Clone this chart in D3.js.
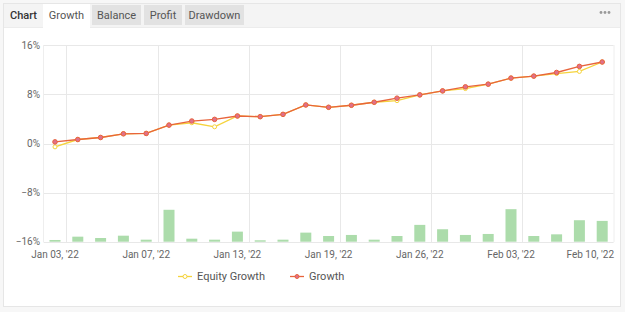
<!DOCTYPE html>
<html><head><meta charset="utf-8">
<script src="https://cdn.jsdelivr.net/npm/d3@7"></script>
<style>
html,body{margin:0;padding:0;background:#fff;}
svg{display:block;font-family:Roboto,"Noto Sans",sans-serif;}
</style></head>
<body><svg id="c" width="625" height="312"></svg>
<script>
const categories = ["Jan 03, '22","Jan 04, '22","Jan 05, '22","Jan 06, '22","Jan 07, '22","Jan 10, '22","Jan 11, '22","Jan 12, '22","Jan 13, '22","Jan 14, '22","Jan 17, '22","Jan 18, '22","Jan 19, '22","Jan 20, '22","Jan 21, '22","Jan 25, '22","Jan 26, '22","Jan 27, '22","Jan 28, '22","Feb 02, '22","Feb 03, '22","Feb 04, '22","Feb 07, '22","Feb 09, '22","Feb 10, '22"];
const growth = [0.26,0.65,0.98,1.58,1.64,3.0,3.66,3.93,4.48,4.37,4.75,6.28,5.9,6.23,6.72,7.38,7.92,8.57,9.23,9.67,10.66,10.98,11.57,12.56,13.28];
const equityGrowth = [-0.55,0.65,0.98,1.58,1.64,3.0,3.38,2.72,4.48,4.37,4.75,6.28,5.9,6.23,6.72,6.98,7.92,8.57,8.95,9.67,10.66,10.98,11.4,11.74,13.28];
const bars = [0.28,0.82,0.6,0.98,0.33,5.2,0.49,0.33,1.64,0.23,0.33,1.48,0.93,1.1,0.33,0.93,2.74,2.03,1.1,1.26,5.3,0.93,1.2,3.5,3.39];
const yTicks = [16,8,0,-8,-16];
const labelIdx = [0,4,8,12,16,20,24];
const gridIdx = [0,4,8,12,16,20];
const tabs = ["Chart","Growth","Balance","Profit","Drawdown"];

const svg = d3.select("#c");
svg.append("rect").attr("x",0).attr("y",0).attr("width",625).attr("height",312).attr("fill","#f7f7f7");
svg.append("rect").attr("x",3.5).attr("y",3.5).attr("width",617).attr("height",303).attr("fill","#fff").attr("stroke","#e6e6e6");
svg.append("rect").attr("x",4).attr("y",4).attr("width",616).attr("height",23).attr("fill","#f4f4f4");
svg.append("line").attr("x1",4).attr("x2",620).attr("y1",27.5).attr("y2",27.5).attr("stroke","#ececec");

const tabX = [[5,42],[43,90],[92,141],[144,182],[185,244]];
tabs.forEach((t,i)=>{
  const [a,b] = tabX[i];
  let fill = i===0 ? "#f4f4f4" : (i===1 ? "#fff" : "#e2e2e2");
  svg.append("rect").attr("x",a).attr("y",i===1?4:5).attr("width",b-a).attr("height",i===1?24:20).attr("fill",fill);
  svg.append("text").attr("x",(a+b)/2).attr("y",18.5).attr("text-anchor","middle")
    .attr("font-size",11).attr("fill", i===0?"#333":"#555").attr("font-weight", i===0?500:400).text(t);
});
[0,1,2].forEach(k=>svg.append("circle").attr("cx",601+k*4).attr("cy",12.5).attr("r",1.4).attr("fill","#999"));

const x = d3.scaleBand().domain(d3.range(categories.length)).range([43.6,613.6]);
const y = d3.scaleLinear().domain([-16,16]).range([241.7,45.3]);
const g = svg.append("g");

yTicks.forEach(v=>{
  g.append("line").attr("x1",43.6).attr("x2",613.6).attr("y1",Math.round(y(v))+0.5).attr("y2",Math.round(y(v))+0.5).attr("stroke","#e8e8e8");
});
gridIdx.forEach(i=>{
  const xx = Math.round(x(i)+x.bandwidth())+0.5;
  g.append("line").attr("x1",xx).attr("x2",xx).attr("y1",45).attr("y2",242).attr("stroke","#e8e8e8");
});
g.append("line").attr("x1",43.5).attr("x2",43.5).attr("y1",45).attr("y2",242).attr("stroke","#eeeeee");
g.append("line").attr("x1",614).attr("x2",614).attr("y1",45).attr("y2",242).attr("stroke","#eeeeee");

yTicks.forEach(v=>{
  g.append("text").attr("x",40).attr("y",y(v)+3.5).attr("text-anchor","end").attr("font-size",10).attr("fill","#666")
   .text((v<0?"\u2212":"")+Math.abs(v)+"%");
});
labelIdx.forEach(i=>{
  let cx = x(i)+x.bandwidth()/2;
  const t = g.append("text").attr("y",258).attr("font-size",10).attr("fill","#666").attr("text-anchor","middle").text(categories[i]);
  if(i===categories.length-1){ t.attr("text-anchor","end").attr("x",614); } else t.attr("x",cx);
});

g.selectAll(".bar").data(bars).join("rect")
  .attr("x",(d,i)=>x(i)+x.bandwidth()/2-5.5).attr("width",11)
  .attr("y",d=>y(-16+d)).attr("height",d=>y(-16)-y(-16+d))
  .attr("fill","#acdcab");

const line = d3.line().x((d,i)=>x(i)+x.bandwidth()/2).y(d=>y(d));
g.append("path").datum(equityGrowth).attr("d",line).attr("fill","none").attr("stroke","#f5d33c").attr("stroke-width",1.3);
g.selectAll(".ep").data(equityGrowth).join("circle").attr("cx",(d,i)=>x(i)+x.bandwidth()/2).attr("cy",d=>y(d)).attr("r",2)
  .attr("fill","#fff").attr("stroke","#f5d33c").attr("stroke-width",1);
g.append("path").datum(growth).attr("d",line).attr("fill","none").attr("stroke","#e8643c").attr("stroke-width",1.3);
g.selectAll(".gp").data(growth).join("circle").attr("cx",(d,i)=>x(i)+x.bandwidth()/2).attr("cy",d=>y(d)).attr("r",2.3)
  .attr("fill","#e0708a").attr("stroke","#e8643c").attr("stroke-width",1);

const leg = [{name:"Equity Growth",c:"#f5d33c",f:"#fff",x:178},{name:"Growth",c:"#e8643c",f:"#e0708a",x:290}];
leg.forEach(l=>{
  svg.append("line").attr("x1",l.x).attr("x2",l.x+14).attr("y1",276.5).attr("y2",276.5).attr("stroke",l.c).attr("stroke-width",1.3);
  svg.append("circle").attr("cx",l.x+7).attr("cy",276.5).attr("r",2).attr("fill",l.f).attr("stroke",l.c);
  svg.append("text").attr("x",l.x+19).attr("y",280).attr("font-size",11).attr("fill","#555").text(l.name);
});
</script></body></html>
